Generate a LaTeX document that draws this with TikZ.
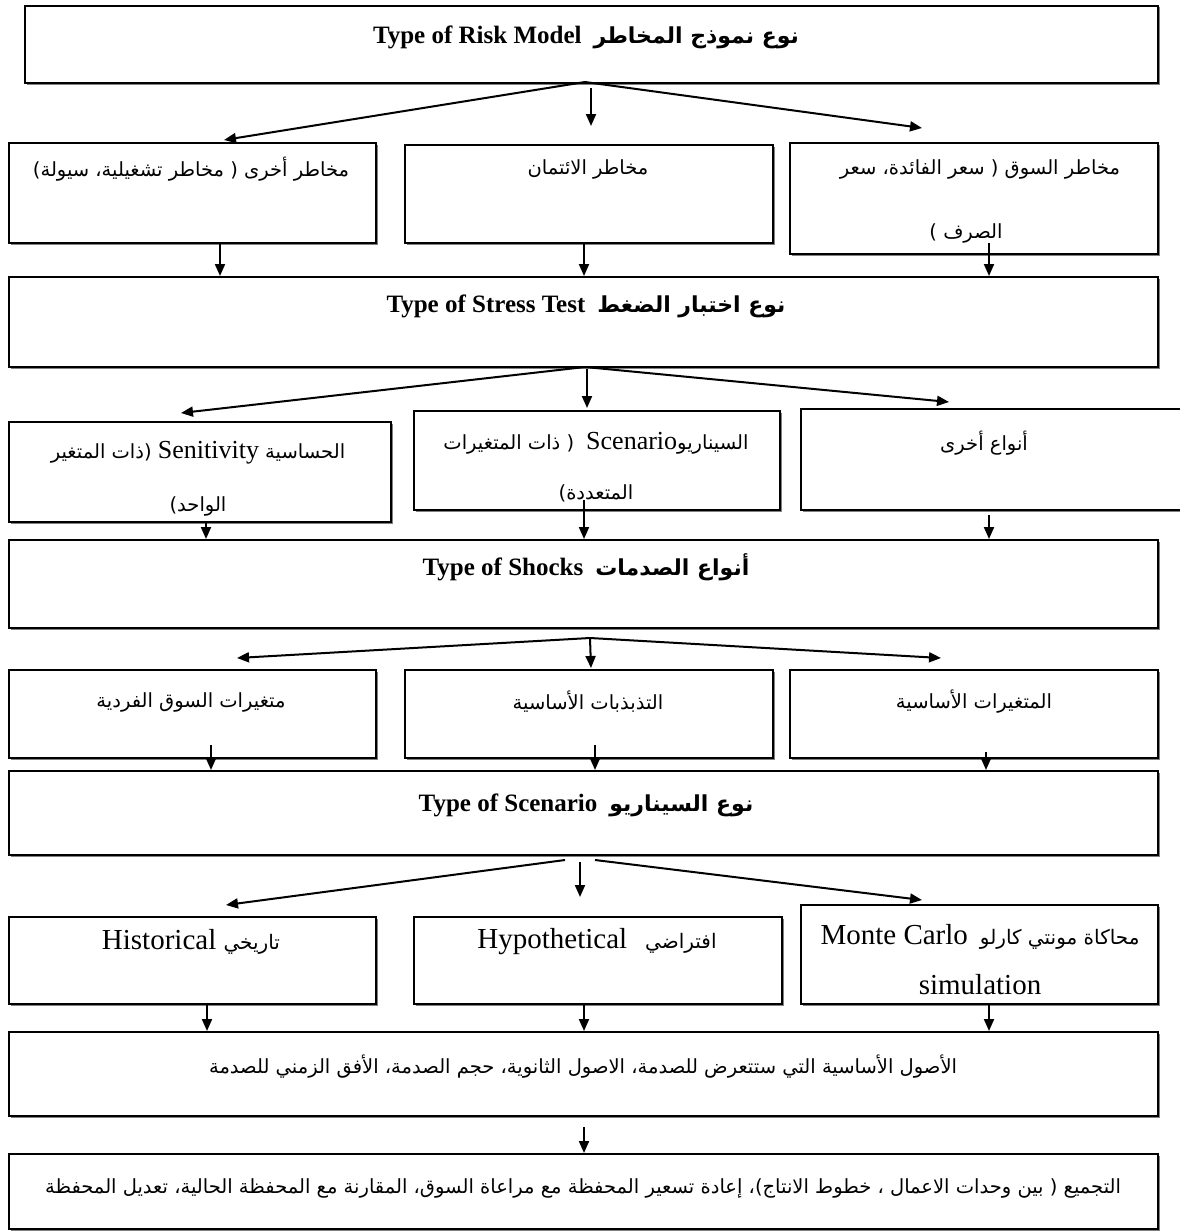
\documentclass[tikz,border=0pt]{standalone}
\usepackage{fontspec}
\setmainfont{Liberation Serif}
\newfontfamily\arf[Script=Arabic]{DejaVu Sans}
\TeXXeTstate=1
\usetikzlibrary{arrows.meta,shadows}
\newcommand\artxt[1]{{\arf\beginR #1\endR}}
\newcommand\arhead[1]{{\arf\fontsize{22}{26}\selectfont\bfseries\beginR #1\endR}}
\newcommand\arsmall[1]{{\arf\fontsize{20}{24}\selectfont\beginR #1\endR}}
\newcommand\entxt[1]{{\rmfamily\fontsize{26}{30}\selectfont\beginL #1\endL}}
\tikzset{
  box/.style={draw, line width=2pt, fill=white,
    drop shadow={shadow xshift=1.5pt, shadow yshift=-1.5pt, fill=black!50, opacity=1},
    inner sep=0pt, anchor=north west},
  arr/.style={line width=2pt, -{Triangle[length=12pt,width=10pt]}},
  lbl/.style={inner sep=0pt, align=center, font=\fontsize{19.5}{24}\selectfont},
  head/.style={inner sep=0pt, font=\fontsize{25}{29}\selectfont\bfseries},
  en/.style={inner sep=0pt, align=center, font=\fontsize{29}{33}\selectfont},
}
\begin{document}
\begin{tikzpicture}[x=1pt,y=-1pt]
\useasboundingbox (0,0) rectangle (1180,1231);
% boxes
\node[box, minimum width=1133, minimum height=77] (b1) at (24,5) {};
\node[box, minimum width=367, minimum height=100] (r1l) at (8,142) {};
\node[box, minimum width=368, minimum height=98] (r1c) at (404,144) {};
\node[box, minimum width=368, minimum height=111] (r1r) at (789,142) {};
\node[box, minimum width=1149, minimum height=90] (b2) at (8,276) {};
\node[box, minimum width=382, minimum height=100] (r2l) at (8,421) {};
\node[box, minimum width=366, minimum height=99] (r2c) at (413,410) {};
\node[box, minimum width=385, minimum height=101] (r2r) at (800,408) {};
\node[box, minimum width=1149, minimum height=88] (b3) at (8,539) {};
\node[box, minimum width=367, minimum height=88] (r3l) at (8,669) {};
\node[box, minimum width=368, minimum height=88] (r3c) at (404,669) {};
\node[box, minimum width=368, minimum height=88] (r3r) at (789,669) {};
\node[box, minimum width=1149, minimum height=84] (b4) at (8,770) {};
\node[box, minimum width=367, minimum height=87] (r4l) at (8,916) {};
\node[box, minimum width=368, minimum height=87] (r4c) at (413,916) {};
\node[box, minimum width=357, minimum height=99] (r4r) at (800,904) {};
\node[box, minimum width=1149, minimum height=84] (b5) at (8,1031) {};
\node[box, minimum width=1149, minimum height=75] (b6) at (8,1153) {};
% texts
\node[head] (t1) at (586,37) {Type of Risk Model\hspace{12pt}\arhead{نوع نموذج المخاطر}};
\node[lbl] (t1l) at (191,169) {\artxt{مخاطر أخرى ( مخاطر تشغيلية، سيولة)}};
\node[lbl] (t1c) at (588,169) {\artxt{مخاطر الائتمان}};
\node[lbl] (t1r) at (980,169) {\artxt{مخاطر السوق ( سعر الفائدة، سعر}};
\node[lbl] (t1r2) at (966,233) {\artxt{الصرف )}};
\node[head] (t2) at (586,306) {Type of Stress Test\hspace{12pt}\arhead{نوع اختبار الضغط}};
\node[lbl] (t2l) at (198,453) {\artxt{الحساسية \entxt{Senitivity} (ذات المتغير}};
\node[lbl] (t2l2) at (198,506) {\artxt{الواحد)}};
\node[lbl] (t2c) at (596,443) {\artxt{السيناريو\entxt{Scenario}\hspace{12pt}( ذات المتغيرات}};
\node[lbl] (t2c2) at (596,493) {\artxt{المتعددة)}};
\node[lbl] (t2r) at (984,443) {\artxt{أنواع أخرى}};
\node[head] (t3) at (586,567) {Type of Shocks\hspace{12pt}\arhead{أنواع الصدمات}};
\node[lbl] (t3l) at (191,702) {\artxt{متغيرات السوق الفردية}};
\node[lbl] (t3c) at (588,702) {\artxt{التذبذبات الأساسية}};
\node[lbl] (t3r) at (974,702) {\artxt{المتغيرات الأساسية}};
\node[head] (t4) at (586,805) {Type of Scenario\hspace{12pt}\arhead{نوع السيناريو}};
\node[en] (t4l) at (191,942) {Historical\ \arsmall{تاريخي}};
\node[en] (t4c) at (597,942) {Hypothetical\hspace{18pt}\arsmall{افتراضي}};
\node[en] (t4r) at (980,937) {Monte Carlo\hspace{12pt}\arsmall{محاكاة مونتي كارلو}};
\node[en] (t4r2) at (980,985) {simulation};
\node[lbl] (t5) at (583,1067) {\artxt{الأصول الأساسية التي ستتعرض للصدمة، الاصول الثانوية، حجم الصدمة، الأفق الزمني للصدمة}};
\node[lbl] (t6) at (583,1188) {\artxt{التجميع ( بين وحدات الاعمال ، خطوط الانتاج)، إعادة تسعير المحفظة مع مراعاة السوق، المقارنة مع المحفظة الحالية، تعديل المحفظة}};
% fan 1
\coordinate (f1) at (585,82);
\coordinate (p1l) at (224,140);
\coordinate (p1r) at (922,128);
\coordinate (p1c) at (591,88);
\draw[arr] (f1) -- (p1l);
\draw[arr] (f1) -- (p1r);
\draw[arr] (p1c) -- (591,126);
% row1 -> b2
\draw[arr] (r1l.south -| 220,0) -- (b2.north -| 220,0);
\draw[arr] (r1c.south -| 584,0) -- (b2.north -| 584,0);
\coordinate (c1r) at (989,243);
\draw[arr] (c1r) -- (b2.north -| c1r);
% fan 2
\coordinate (f2) at (585,367);
\coordinate (p2l) at (181,413);
\coordinate (p2r) at (949,402);
\coordinate (p2c) at (587,369);
\draw[arr] (f2) -- (p2l);
\draw[arr] (f2) -- (p2r);
\draw[arr] (p2c) -- (587,408);
% row2 -> b3
\coordinate (c2l) at (206,521);
\coordinate (c2c) at (584,500);
\coordinate (c2r) at (989,515);
\draw[arr] (c2l) -- (b3.north -| c2l);
\draw[arr] (c2c) -- (b3.north -| c2c);
\draw[arr] (c2r) -- (b3.north -| c2r);
% fan 3
\coordinate (f3) at (590,638);
\coordinate (p3l) at (237,658);
\coordinate (p3r) at (941,658);
\draw[arr] (f3) -- (p3l);
\draw[arr] (f3) -- (p3r);
\draw[arr] (f3) -- (591,668);
% row3 -> b4
\coordinate (c3l) at (211,745);
\coordinate (c3c) at (595,745);
\coordinate (c3r) at (986,752);
\draw[arr] (c3l) -- (b4.north -| c3l);
\draw[arr] (c3c) -- (b4.north -| c3c);
\draw[arr] (c3r) -- (b4.north -| c3r);
% fan 4
\coordinate (f4l) at (565,860);
\coordinate (f4r) at (595,860);
\coordinate (p4l) at (226,905);
\coordinate (p4r) at (922,900);
\coordinate (p4c) at (580,862);
\draw[arr] (f4l) -- (p4l);
\draw[arr] (f4r) -- (p4r);
\draw[arr] (p4c) -- (580,897);
% row4 -> b5
\draw[arr] (r4l.south -| 207,0) -- (b5.north -| 207,0);
\draw[arr] (r4c.south -| 584,0) -- (b5.north -| 584,0);
\draw[arr] (r4r.south -| 989,0) -- (b5.north -| 989,0);
% b5 -> b6
\coordinate (c5) at (584,1127);
\draw[arr] (c5) -- (b6.north -| c5);
\end{tikzpicture}
\end{document}
